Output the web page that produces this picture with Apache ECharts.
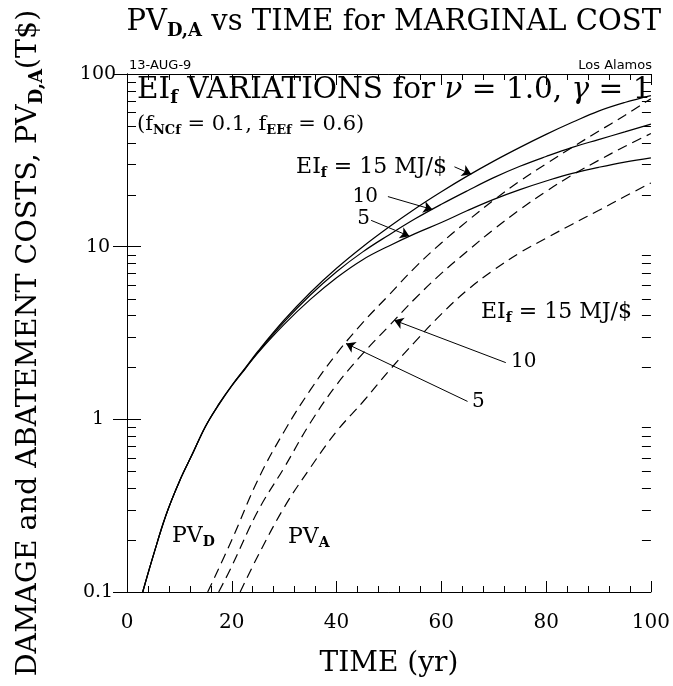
<!DOCTYPE html>
<html lang="en">
<head>
<meta charset="UTF-8">
<title>PV vs TIME for MARGINAL COST</title>
<script src="https://cdn.jsdelivr.net/npm/echarts@6/dist/echarts.min.js"></script>
<style>
    html, body { margin: 0; background: #fff; }
    #main { width: 673px; height: 686px; }
</style>
</head>
<body>
<div id="main"></div>
<script>
    // solid curves: PV_D for EI_f = 15, 10, 5 MJ/$
    const tD = [3, 5, 7.5, 10, 12.5, 15, 17.5, 20, 22.5, 25, 30, 35, 40, 45, 50, 55, 60, 65, 70, 75, 80, 85, 90, 95, 100];
    const pvD15 = [0.1, 0.162, 0.282, 0.437, 0.631, 0.912, 1.22, 1.57, 1.97, 2.48, 3.76, 5.43, 7.50, 10.0, 13.0, 16.6, 20.8, 25.7, 31.3, 37.6, 44.7, 52.5, 61.0, 68.4, 75.0];
    const pvD10 = [0.1, 0.162, 0.282, 0.437, 0.631, 0.912, 1.22, 1.57, 1.96, 2.45, 3.67, 5.25, 7.16, 9.33, 11.7, 14.5, 17.6, 21.1, 25.1, 29.2, 33.3, 37.6, 41.7, 46.2, 51.3];
    const pvD5 = [0.1, 0.162, 0.282, 0.437, 0.631, 0.912, 1.21, 1.56, 1.95, 2.43, 3.55, 4.95, 6.61, 8.41, 10.1, 11.9, 13.8, 16.2, 18.8, 21.4, 24.0, 26.6, 28.8, 30.9, 32.7];

    // dashed curves: PV_A for EI_f = 5, 10, 15 MJ/$
    const tA5 = [15.4, 20, 25, 30, 35, 40, 45, 50, 55, 60, 65, 70, 75, 80, 85, 90, 95, 100];
    const pvA5 = [0.1, 0.20, 0.447, 0.851, 1.48, 2.40, 3.63, 5.25, 7.59, 10.5, 14.1, 18.6, 24.0, 30.2, 37.6, 46.6, 57.5, 72.0];
    const tA10 = [17.5, 20, 25, 30, 35, 40, 45, 50, 55, 60, 65, 70, 75, 80, 85, 90, 95, 100];
    const pvA10 = [0.1, 0.141, 0.295, 0.525, 0.955, 1.585, 2.40, 3.47, 5.01, 7.00, 9.44, 12.6, 16.4, 20.9, 26.0, 31.6, 38.0, 45.2];
    const tA15 = [21.6, 25, 30, 35, 40, 45, 50, 55, 60, 65, 70, 75, 80, 85, 90, 95, 100];
    const pvA15 = [0.1, 0.162, 0.309, 0.525, 0.851, 1.26, 1.91, 2.82, 4.07, 5.62, 7.33, 9.23, 11.2, 13.5, 16.2, 19.5, 23.4];

    // log minor tick values on the y axes
    const yMinor = [0.2, 0.3, 0.4, 0.5, 0.6, 0.7, 0.8, 0.9, 2, 3, 4, 5, 6, 7, 8, 9, 20, 30, 40, 50, 60, 70, 80, 90];

    // arrows [from, to] in data units
    const arrows = [
        [[62.5, 29.0], [65.7, 26.3]],
        [[49.8, 19.5], [58.3, 16.4]],
        [[46.6, 14.2], [53.9, 11.5]],
        [[72.3, 2.13], [51.0, 3.75]],
        [[65.0, 1.27], [41.8, 2.75]]
    ];

    const SERIF = '"DejaVu Serif", serif';

    function pairs(t, v) {
        return t.map(function (x, i) { return [x, v[i]]; });
    }

    // rich styles for text with subscripts
    function richSet(size) {
        const lh = Math.round(size * 1.2);
        const base = {fontFamily: SERIF, fontSize: size, fontWeight: 'normal', color: '#000', fill: '#000', lineHeight: lh};
        return {
            n: base,
            i: Object.assign({}, base, {fontStyle: 'italic'}),
            s: {
                fontFamily: SERIF, fontSize: Math.round(size * 0.62), color: '#000', fill: '#000',
                fontWeight: 'bold', verticalAlign: 'bottom', lineHeight: Math.round(size * 0.4)
            }
        };
    }

    function label(text, x, y, size, align) {
        return {
            type: 'text', z: 100,
            style: {text: text, x: x, y: y, rich: richSet(size), align: align || 'left', verticalAlign: 'middle'}
        };
    }

    const axisLine = {show: true, lineStyle: {color: '#000', width: 1}};

    function xAx(pos) {
        return {
            type: 'value', position: pos, min: 0, max: 100, interval: 20,
            axisLine: axisLine,
            axisTick: {show: true, inside: true, length: 11, lineStyle: {color: '#000'}},
            minorTick: {show: true, splitNumber: 5, length: 6, lineStyle: {color: '#000'}},
            splitLine: {show: false},
            axisLabel: {show: pos === 'bottom', color: '#000', fontFamily: SERIF, fontSize: 20, margin: 21}
        };
    }

    function yAx(pos) {
        return {
            type: 'log', logBase: 10, position: pos, min: 0.1, max: 100,
            axisLine: axisLine,
            axisTick: {show: true, inside: true, length: 14, lineStyle: {color: '#000'}},
            splitLine: {show: false},
            axisLabel: {
                show: pos === 'left', color: '#000', fontFamily: SERIF, fontSize: 19, margin: 29, align: 'center',
                formatter: function (v) { return String(v); }
            }
        };
    }

    function curve(data, dashed) {
        return {
            type: 'line', data: data, xAxisIndex: 0, yAxisIndex: 0,
            showSymbol: false, smooth: 0.4, silent: true,
            lineStyle: {color: '#000', width: 1.2, type: dashed ? [10, 6] : 'solid'}
        };
    }

    const chart = echarts.init(document.getElementById('main'));

    const xa = xAx('bottom');
    xa.name = 'TIME (yr)';
    xa.nameLocation = 'middle';
    xa.nameGap = 58;
    xa.nameTextStyle = {color: '#000', fontFamily: SERIF, fontSize: 28};

    const s15 = curve(pairs(tD, pvD15), false);
    s15.markLine = {
        silent: true, symbol: ['none', 'arrow'], symbolSize: 9, animation: false,
        label: {show: false},
        lineStyle: {color: '#000', width: 1, type: 'solid'},
        data: arrows.map(function (a) { return [{coord: a[0]}, {coord: a[1]}]; })
    };

    const texts = [
        {type: 'text', style: {text: '13-AUG-9', x: 129, y: 66, font: '13px "DejaVu Sans"', fill: '#000', verticalAlign: 'middle'}},
        {type: 'text', style: {text: 'Los Alamos', x: 652, y: 66, font: '13px "DejaVu Sans"', fill: '#000', align: 'right', verticalAlign: 'middle'}},
        {
            type: 'text', x: 29, y: 343, rotation: Math.PI / 2,
            style: {
                text: '{n|DAMAGE and ABATEMENT COSTS, PV}{s|D,A}{n|(T$)}',
                rich: richSet(28.5), align: 'center', verticalAlign: 'middle'
            }
        },
        label('{n|EI}{s|f}{n| VARIATIONS for }{i|ν}{n| = 1.0, }{i|γ}{n| = 1}', 137, 90, 29.5),
        label('{n|(f}{s|NCf}{n| = 0.1, f}{s|EEf}{n| = 0.6)}', 137, 125, 21),
        label('{n|EI}{s|f}{n| = 15 MJ/$}', 447, 167, 22, 'right'),
        label('{n|10}', 378, 197, 20, 'right'),
        label('{n|5}', 370, 219, 20, 'right'),
        label('{n|EI}{s|f}{n| = 15 MJ/$}', 481, 312, 22),
        label('{n|10}', 511, 362, 20),
        label('{n|5}', 472, 402, 20),
        label('{n|PV}{s|D}', 172, 536, 22),
        label('{n|PV}{s|A}', 288, 537, 22)
    ];

    chart.setOption({
        animation: false,
        title: {
            text: '{n|PV}{s|D,A}{n| vs TIME for MARGINAL COST}',
            right: 7, top: 0,
            textStyle: {fontWeight: 'normal', rich: richSet(29)}
        },
        grid: {left: 127, right: 21, top: 74, bottom: 94},
        xAxis: [xa, xAx('top')],
        yAxis: [yAx('left'), yAx('right')],
        series: [
            s15,
            curve(pairs(tD, pvD10), false),
            curve(pairs(tD, pvD5), false),
            curve(pairs(tA5, pvA5), true),
            curve(pairs(tA10, pvA10), true),
            curve(pairs(tA15, pvA15), true)
        ],
        graphic: texts
    });

    // minor ticks for the log axes, positioned through the chart's own scale
    const finder = {xAxisIndex: 0, yAxisIndex: 0};
    const tickEls = [];
    yMinor.forEach(function (v) {
        const pl = chart.convertToPixel(finder, [0, v]);
        const pr = chart.convertToPixel(finder, [100, v]);
        const y = Math.round(pl[1]) + 0.5;
        tickEls.push({type: 'line', z: 200, shape: {x1: pl[0], y1: y, x2: pl[0] + 9, y2: y}, style: {stroke: '#000', lineWidth: 1}});
        tickEls.push({type: 'line', z: 200, shape: {x1: pr[0] - 9, y1: y, x2: pr[0], y2: y}, style: {stroke: '#000', lineWidth: 1}});
    });
    chart.setOption({graphic: texts.concat(tickEls)});
</script>
</body>
</html>
